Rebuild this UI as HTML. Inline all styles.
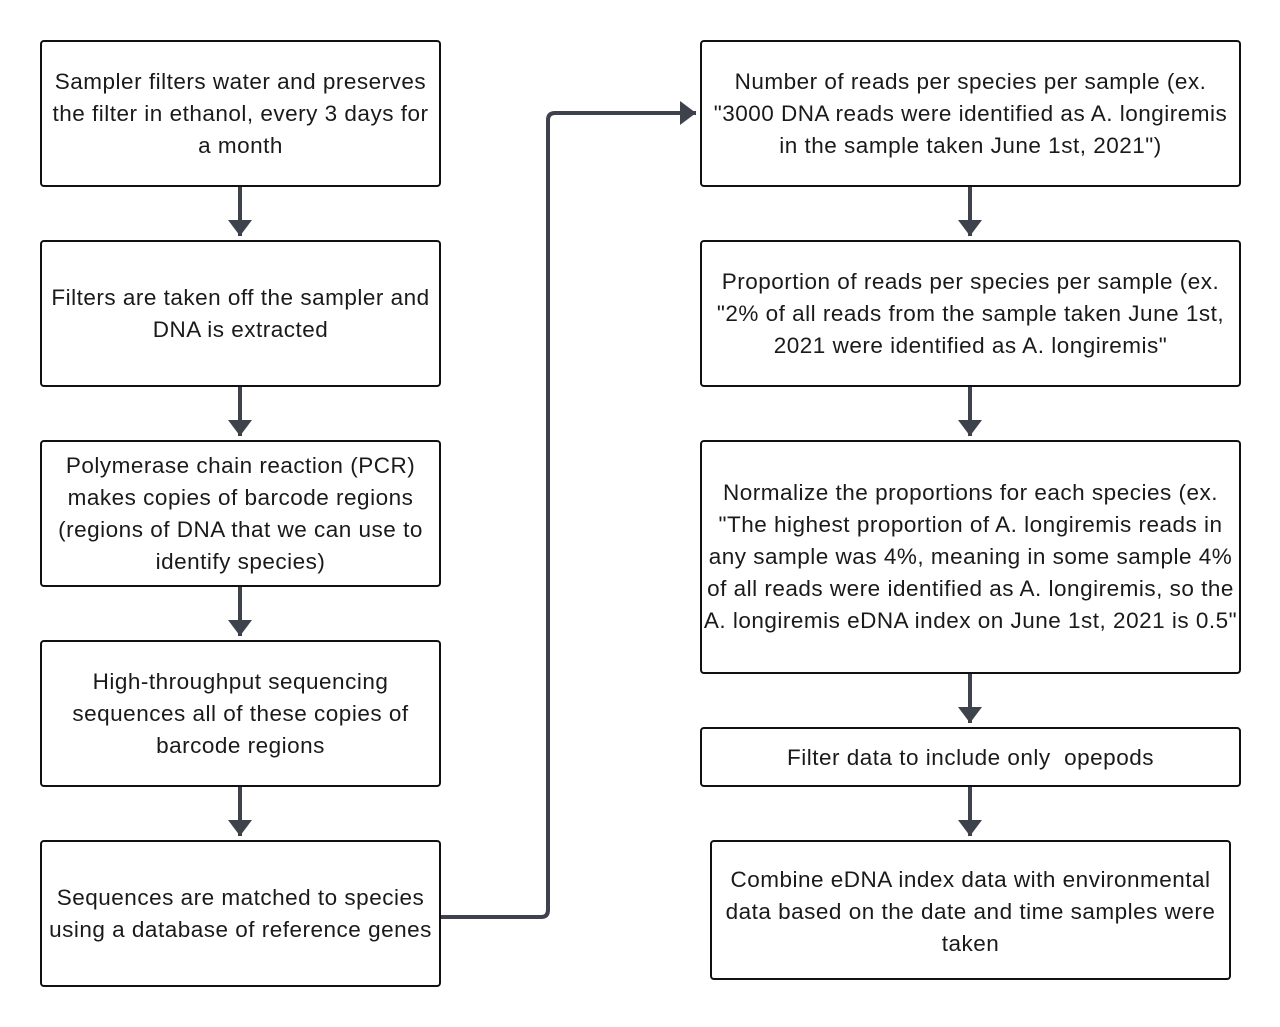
<!DOCTYPE html>
<html><head><meta charset="utf-8"><style>
body{margin:0;width:1280px;height:1027px;background:#fff;position:relative;overflow:hidden;font-family:"Liberation Sans",sans-serif}
.b{position:absolute;box-sizing:border-box;border:2px solid #111;border-radius:4px;display:flex;align-items:center;justify-content:center;text-align:center;font-size:22.5px;letter-spacing:0.5px;line-height:32px;color:#1a1a1a;padding:0;white-space:nowrap}
svg{position:absolute;left:0;top:0}
</style></head><body>
<div class="b" style="left:40px;top:40px;width:401px;height:147px">Sampler filters water and preserves<br>the filter in ethanol, every 3 days for<br>a month</div>
<div class="b" style="left:40px;top:240px;width:401px;height:147px">Filters are taken off the sampler and<br>DNA is extracted</div>
<div class="b" style="left:40px;top:440px;width:401px;height:147px">Polymerase chain reaction (PCR)<br>makes copies of barcode regions<br>(regions of DNA that we can use to<br>identify species)</div>
<div class="b" style="left:40px;top:640px;width:401px;height:147px">High-throughput sequencing<br>sequences all of these copies of<br>barcode regions</div>
<div class="b" style="left:40px;top:840px;width:401px;height:147px">Sequences are matched to species<br>using a database of reference genes</div>
<div class="b" style="left:700px;top:40px;width:541px;height:147px">Number of reads per species per sample (ex.<br>"3000 DNA reads were identified as A. longiremis<br>in the sample taken June 1st, 2021")</div>
<div class="b" style="left:700px;top:240px;width:541px;height:147px">Proportion of reads per species per sample (ex.<br>"2% of all reads from the sample taken June 1st,<br>2021 were identified as A. longiremis"</div>
<div class="b" style="left:700px;top:440px;width:541px;height:234px">Normalize the proportions for each species (ex.<br>"The highest proportion of A. longiremis reads in<br>any sample was 4%, meaning in some sample 4%<br>of all reads were identified as A. longiremis, so the<br>A. longiremis eDNA index on June 1st, 2021 is 0.5"</div>
<div class="b" style="left:700px;top:727px;width:541px;height:60px;padding-top:2px">Filter data to include only &nbsp;opepods</div>
<div class="b" style="left:710px;top:840px;width:521px;height:140px;padding-top:4px">Combine eDNA index data with environmental<br>data based on the date and time samples were<br>taken</div>
<svg width="1280" height="1027">
<defs><marker id="a" markerWidth="4" markerHeight="6" refX="4" refY="3" orient="auto" markerUnits="strokeWidth"><path d="M0,0L4,3L0,6z" fill="#3d424d"/></marker></defs>
<g stroke="#3d424d" stroke-width="4" fill="none" marker-end="url(#a)">
<path d="M240 187V236"/><path d="M240 387V436"/><path d="M240 587V636"/><path d="M240 787V836"/>
<path d="M970 187V236"/><path d="M970 387V436"/><path d="M970 674V723"/><path d="M970 787V836"/>
<path d="M441 917H541Q548 917 548 910V120Q548 113 555 113H696"/>
</g></svg>
</body></html>
